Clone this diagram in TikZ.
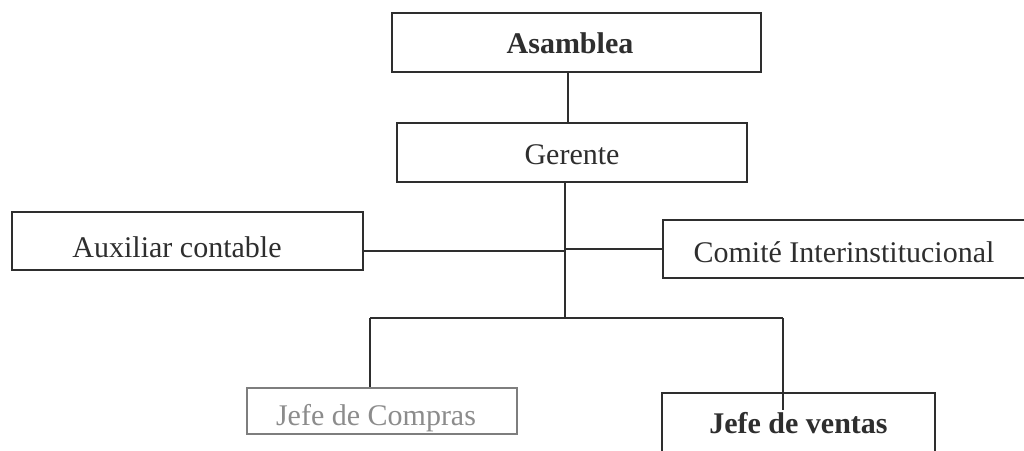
\documentclass[tikz,border=0pt]{standalone}
\usepackage{fontspec}
\setmainfont{Liberation Serif}
\definecolor{ink}{HTML}{2E2E2E}
\definecolor{faint}{HTML}{8C8C8C}
\begin{document}
\begin{tikzpicture}[x=1pt,y=-1pt,
  box/.style={draw=ink,line width=1.1pt,inner sep=0pt,text=ink,
    font=\fontsize{30}{36}\selectfont,text depth=0pt},
  fadedbox/.style={box,draw=faint!90!black,text=faint},
  link/.style={draw=ink,line width=1.1pt}]
\useasboundingbox[fill=white] (0,0) rectangle (1024,450);

\node[box,font=\fontsize{30}{36}\selectfont\bfseries,minimum width=369pt,minimum height=59pt,text height=21pt]
  (asamblea) at (576.5,42.5) {Asamblea\hspace*{13pt}};
\node[box,minimum width=350pt,minimum height=59pt,text height=23pt]
  (gerente) at (572,152.5) {Gerente};
\node[box,minimum width=351pt,minimum height=58pt,text height=32pt]
  (auxiliar) at (187.5,241) {Auxiliar contable\hspace*{21pt}};
\node[box,minimum width=367pt,minimum height=58pt,text height=26pt]
  (comite) at (846.5,249) {Comité Interinstitucional\hspace*{5pt}};
\node[fadedbox,minimum width=270pt,minimum height=46pt,text height=28pt]
  (compras) at (382,411) {Jefe de Compras\hspace*{12pt}};
\node[box,font=\fontsize{30}{36}\selectfont\bfseries,minimum width=273pt,minimum height=70pt,text height=10pt]
  (ventas) at (798.5,428) {Jefe de ventas};

\coordinate (top) at (568,0);
\coordinate (trunk) at (565,318);
\coordinate (auxin) at (565,251);
\coordinate (busL) at (370,318);
\coordinate (busR) at (783,318);
\coordinate (ventasend) at (783,410);

\draw[link] (asamblea.south -| top) -- (gerente.north -| top);
\draw[link] (gerente.south -| trunk) -- (trunk);
\draw[link] (auxiliar.east |- auxin) -- (auxin);
\draw[link] (comite.west -| trunk) -- (comite.west);
\draw[link] (busL) -- (busR);
\draw[link] (busL) -- (compras.north -| busL);
\draw[link] (busR) -- (ventasend);
\end{tikzpicture}
\end{document}
